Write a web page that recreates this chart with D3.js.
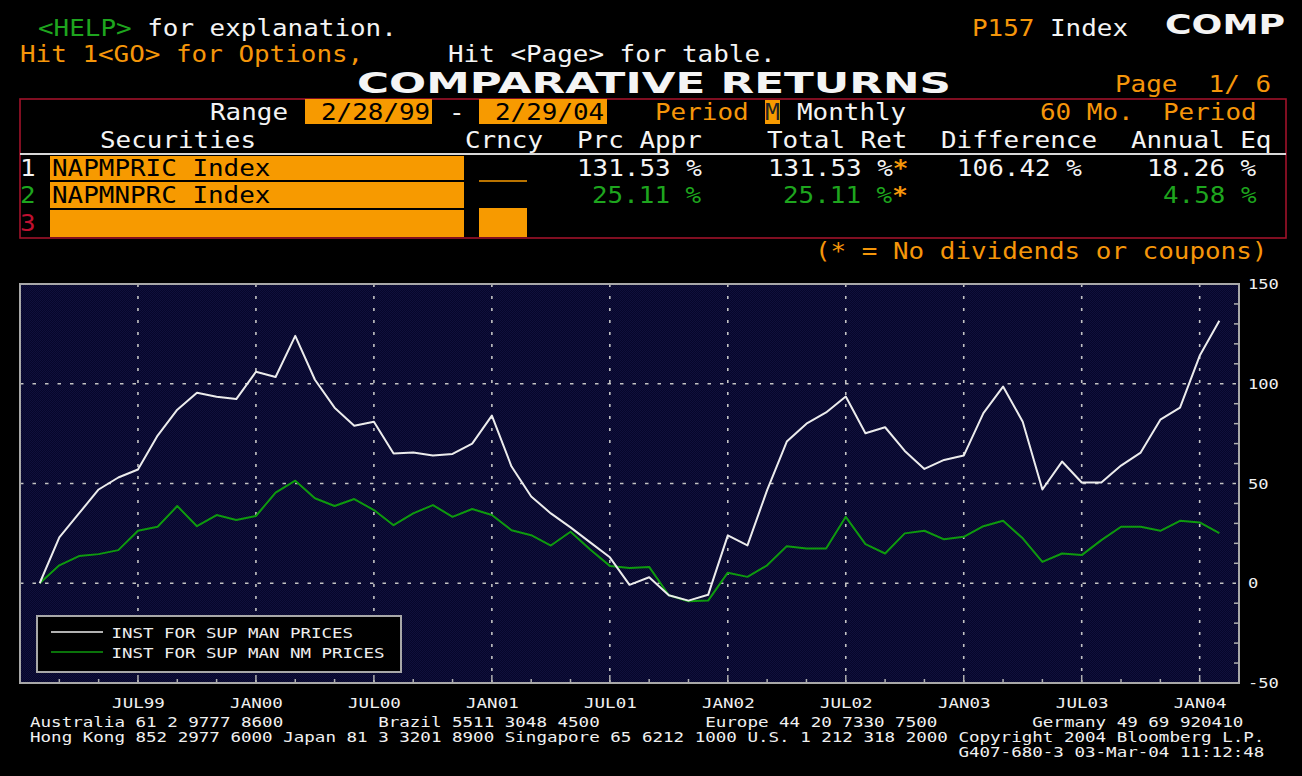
<!DOCTYPE html>
<html><head><meta charset="utf-8">
<script src="https://cdn.jsdelivr.net/npm/d3@7"></script>
<style>html,body{margin:0;padding:0;background:#000;overflow:hidden}</style>
</head><body>
<svg id="c" width="1302" height="776"></svg>
<script>
// ---------- DATA ----------
const months = ["FEB99","MAR99","APR99","MAY99","JUN99","JUL99","AUG99","SEP99","OCT99","NOV99","DEC99",
  "JAN00","FEB00","MAR00","APR00","MAY00","JUN00","JUL00","AUG00","SEP00","OCT00","NOV00","DEC00",
  "JAN01","FEB01","MAR01","APR01","MAY01","JUN01","JUL01","AUG01","SEP01","OCT01","NOV01","DEC01",
  "JAN02","FEB02","MAR02","APR02","MAY02","JUN02","JUL02","AUG02","SEP02","OCT02","NOV02","DEC02",
  "JAN03","FEB03","MAR03","APR03","MAY03","JUN03","JUL03","AUG03","SEP03","OCT03","NOV03","DEC03",
  "JAN04","FEB04"];
const napmPrices = [0,23,35,47,53,57,74,87,95.5,93.5,92.3,
  106,103.4,124,102,88,79,81,65,65.5,64,64.8,70,
  84,58.5,43.5,35,28,20.5,13,-0.8,3,-6,-8.7,-5.8,
  24,19,46.7,71,80,85.6,93.6,75.2,78.2,66.3,57.3,61.8,
  64,85.3,98.6,81,47,61,50.5,50.5,59,65.5,82,88,
  114,131.53];
const napmNmPrices = [0,9,13.6,14.6,16.6,26.3,28.3,38.7,28.6,34.2,31.7,
  33.7,45.4,51.4,42.6,38.7,42.2,36.7,29.1,35,39.2,33.3,37.2,
  34.2,26.6,24.1,18.9,25.8,16.9,8.7,7.7,8.2,-6,-9,-8.7,
  5.3,3.2,9,18.6,17.4,17.4,33.3,19.6,14.9,25,26.3,22,
  23.3,28.6,31.3,22.5,10.7,14.9,14.1,21.6,28.3,28.3,26.3,31.3,
  30.5,25.11];
const seriesNames = ["INST FOR SUP MAN PRICES","INST FOR SUP MAN NM PRICES"];
const xTickLabels = ["JUL99","JAN00","JUL00","JAN01","JUL01","JAN02","JUL02","JAN03","JUL03","JAN04"];
const yTickLabels = [150,100,50,0,-50];
const yGridValues = [100,50,0];

// ---------- SETUP ----------
const svg = d3.select("#c");
const ORANGE = "#f5960a", BOX = "#f79a00", GREEN = "#1ea51e", WHITE = "#f4f4f4", RED = "#a0122a";
svg.append("rect").attr("width",1302).attr("height",776).attr("fill","#000");

function txt(sel, x, y, s, o) {
  o = Object.assign({fill:WHITE, size:23, pitch:15.6, family:"'DejaVu Sans Mono', monospace", weight:"normal", anchor:"start"}, o||{});
  const t = sel.append("text").attr("x",x).attr("y",y).attr("fill",o.fill)
    .attr("font-family",o.family).attr("font-size",o.size).attr("font-weight",o.weight)
    .attr("text-anchor",o.anchor).style("white-space","pre").text(s);
  t.attr("textLength", o.width || s.length*o.pitch).attr("lengthAdjust","spacingAndGlyphs");
  return t;
}

// ---------- HEADER ----------
const H = svg.append("g");
txt(H, 38, 36, "<HELP>", {fill:GREEN});
txt(H, 38+6*15.6, 36, " for explanation.", {});
txt(H, 972, 36, "P157", {fill:ORANGE});
txt(H, 972+5*15.6, 36, "Index", {});
txt(H, 1165, 34, "COMP", {family:"'DejaVu Sans', sans-serif", weight:"bold", size:27, width:120});
txt(H, 20, 62, "Hit 1<GO> for Options,", {fill:ORANGE});
txt(H, 448, 62, "Hit <Page> for table.", {});
txt(H, 357, 93, "COMPARATIVE RETURNS", {family:"'DejaVu Sans', sans-serif", weight:"bold", size:29, width:594});
txt(H, 1115, 92, "Page  1/ 6", {fill:ORANGE});

// table frame
H.append("rect").attr("x",20).attr("y",99).attr("width",1266).attr("height",139)
  .attr("fill","none").attr("stroke",RED).attr("stroke-width",1.6);
H.append("line").attr("x1",20).attr("x2",1286).attr("y1",154).attr("y2",154)
  .attr("stroke","#d8d8d8").attr("stroke-width",2);

// range row
txt(H, 210, 120, "Range", {});
H.append("rect").attr("x",305).attr("y",99).attr("width",127).attr("height",25).attr("fill",BOX);
txt(H, 321, 120, "2/28/99", {fill:"#000"});
txt(H, 449, 120, "-", {});
H.append("rect").attr("x",479).attr("y",99).attr("width",128).attr("height",25).attr("fill",BOX);
txt(H, 495, 120, "2/29/04", {fill:"#000"});
txt(H, 655, 120, "Period", {fill:ORANGE});
H.append("rect").attr("x",765).attr("y",100).attr("width",15).attr("height",24).attr("fill",BOX);
txt(H, 765, 120, "M", {fill:"#222", width:15});
txt(H, 797, 120, "Monthly", {});
txt(H, 1040, 120, "60 Mo.", {fill:ORANGE});
txt(H, 1163, 120, "Period", {fill:ORANGE});

// column headers
txt(H, 100, 148, "Securities", {});
txt(H, 465, 148, "Crncy", {});
txt(H, 577, 148, "Prc Appr", {});
txt(H, 767, 148, "Total Ret", {});
txt(H, 941, 148, "Difference", {});
txt(H, 1131, 148, "Annual Eq", {});

// rows
H.append("rect").attr("x",50).attr("y",156).attr("width",414).attr("height",24).attr("fill",BOX);
H.append("rect").attr("x",50).attr("y",182).attr("width",414).attr("height",26).attr("fill",BOX);
H.append("rect").attr("x",50).attr("y",210).attr("width",414).attr("height",27).attr("fill",BOX);
H.append("rect").attr("x",479).attr("y",208).attr("width",48).attr("height",29).attr("fill",BOX);
H.append("line").attr("x1",479).attr("x2",527).attr("y1",181).attr("y2",181).attr("stroke",BOX).attr("stroke-width",1.5);
txt(H, 20, 176, "1", {});
txt(H, 20, 203, "2", {fill:GREEN});
txt(H, 20, 231, "3", {fill:"#c01030"});
txt(H, 52, 176, "NAPMPRIC Index", {fill:"#000"});
txt(H, 52, 203, "NAPMNPRC Index", {fill:"#000"});
txt(H, 577, 176, "131.53 %", {});
txt(H, 768, 176, "131.53 %", {});
txt(H, 768+8*15.6, 176, "*", {fill:ORANGE, weight:"bold"});
txt(H, 957, 176, "106.42 %", {});
txt(H, 1147, 176, "18.26 %", {});
txt(H, 592, 203, "25.11 %", {fill:GREEN});
txt(H, 783, 203, "25.11 %", {fill:GREEN});
txt(H, 783+7*15.6, 203, "*", {fill:ORANGE, weight:"bold"});
txt(H, 1163, 203, "4.58 %", {fill:GREEN});
txt(H, 815, 259, "(* = No dividends or coupons)", {fill:ORANGE});

// ---------- CHART ----------
const L = 20, R = 1239, T = 284, B = 683;
const x = d3.scaleLinear().domain([-1, months.length]).range([L, R]);
const y = d3.scaleLinear().domain([-50, 150]).range([B, T]);

const defs = svg.append("defs");
const pat = defs.append("pattern").attr("id","hatch").attr("width",2).attr("height",2).attr("patternUnits","userSpaceOnUse");
pat.append("rect").attr("width",2).attr("height",2).attr("fill","#06062a");
pat.append("rect").attr("width",1).attr("height",1).attr("fill","#10103c");
pat.append("rect").attr("x",1).attr("y",1).attr("width",1).attr("height",1).attr("fill","#10103c");
defs.append("clipPath").attr("id","clip").append("rect").attr("x",L).attr("y",T).attr("width",R-L).attr("height",B-T);

const C = svg.append("g");
C.append("rect").attr("x",L).attr("y",T).attr("width",R-L).attr("height",B-T).attr("fill","url(#hatch)");

const majorIdx = xTickLabels.map(l => months.indexOf(l));
// grid
C.selectAll(".hg").data(yGridValues).join("line").attr("class","hg")
  .attr("x1",L).attr("x2",R).attr("y1",d=>y(d)).attr("y2",d=>y(d))
  .attr("stroke","#c4c4c4").attr("stroke-width",1.6).attr("stroke-dasharray","3.5,9");
C.selectAll(".vg").data(majorIdx).join("line").attr("class","vg")
  .attr("x1",d=>x(d)).attr("x2",d=>x(d)).attr("y1",T).attr("y2",B)
  .attr("stroke","#c4c4c4").attr("stroke-width",1.6).attr("stroke-dasharray","3,9");

// ticks bottom (pointing up)
const minorIdx = months.map((m,i)=>i).filter(i => i % 2 === 1 && majorIdx.indexOf(i) < 0);
const tickG = C.append("g").attr("stroke","#b0b0b0").attr("stroke-width",1.5);
tickG.selectAll(".mt").data(minorIdx).join("line").attr("x1",d=>x(d)).attr("x2",d=>x(d)).attr("y1",B).attr("y2",B-4);
tickG.selectAll(".Mt").data(majorIdx).join("line").attr("x1",d=>x(d)).attr("x2",d=>x(d)).attr("y1",B).attr("y2",B-8);
// right minor ticks (pointing left)
const yMinor = d3.range(-40, 150, 10).filter(v => yTickLabels.indexOf(v) < 0);
tickG.selectAll(".yt").data(yMinor).join("line").attr("x1",R).attr("x2",R-5).attr("y1",d=>y(d)).attr("y2",d=>y(d));

// lines
const line = d3.line().x((d,i)=>x(i)).y(d=>y(d));
const lg = C.append("g").attr("clip-path","url(#clip)");
lg.append("path").datum(napmNmPrices).attr("d",line).attr("fill","none").attr("stroke","#0e9a0e").attr("stroke-width",2).attr("stroke-linejoin","round");
lg.append("path").datum(napmPrices).attr("d",line).attr("fill","none").attr("stroke","#ececec").attr("stroke-width",2).attr("stroke-linejoin","round");

// frame
C.append("rect").attr("x",L).attr("y",T).attr("width",R-L).attr("height",B-T)
  .attr("fill","none").attr("stroke","#a8a8a8").attr("stroke-width",2);

// legend
const LG = C.append("g");
LG.append("rect").attr("x",37).attr("y",616).attr("width",364).attr("height",56)
  .attr("fill","#000").attr("stroke","#a8a8a8").attr("stroke-width",2);
const legColors = ["#ececec","#0e9a0e"];
seriesNames.forEach((n,i) => {
  const yy = 632 + i*20;
  LG.append("line").attr("x1",51).attr("x2",103).attr("y1",yy).attr("y2",yy).attr("stroke",legColors[i]).attr("stroke-width",1.6);
  txt(LG, 111.5, yy+5.5, n, {size:14.5, pitch:10.5, fill:"#eeeeee"});
});

// axes labels
const FS = "'DejaVu Sans Mono', monospace";
const xAxis = d3.axisBottom(x).tickValues(majorIdx).tickFormat(i => months[i]).tickSize(0).tickPadding(15);
const xa = svg.append("g").attr("transform",`translate(0,${B})`).call(xAxis);
xa.select(".domain").remove();
xa.selectAll("text").attr("fill","#f0f0f0").attr("font-family",FS).attr("font-size",14.5)
  .attr("textLength",d=>months[d].length*10.55).attr("lengthAdjust","spacingAndGlyphs");

const yAxis = d3.axisRight(y).tickValues(yTickLabels).tickFormat(d => String(d)).tickSize(0).tickPadding(9);
const ya = svg.append("g").attr("transform",`translate(${R},0)`).call(yAxis);
ya.select(".domain").remove();
ya.selectAll("text").attr("fill","#f0f0f0").attr("font-family",FS).attr("font-size",14.5)
  .attr("textLength",d=>String(d).length*10.3).attr("lengthAdjust","spacingAndGlyphs");

// footer
const F = svg.append("g");
const P = 10.55, X0 = 30;
const fo = {size:14.5, pitch:P, fill:"#f0f0f0"};
txt(F, X0, 726.5, "Australia 61 2 9777 8600", fo);
txt(F, X0+33*P, 726.5, "Brazil 5511 3048 4500", fo);
txt(F, X0+64*P, 726.5, "Europe 44 20 7330 7500", fo);
txt(F, X0+95*P, 726.5, "Germany 49 69 920410", fo);
txt(F, X0, 741.5, "Hong Kong 852 2977 6000 Japan 81 3 3201 8900 Singapore 65 6212 1000 U.S. 1 212 318 2000 Copyright 2004 Bloomberg L.P.", fo);
txt(F, X0+88*P, 756.5, "G407-680-3 03-Mar-04 11:12:48", fo);
</script>
</body></html>
